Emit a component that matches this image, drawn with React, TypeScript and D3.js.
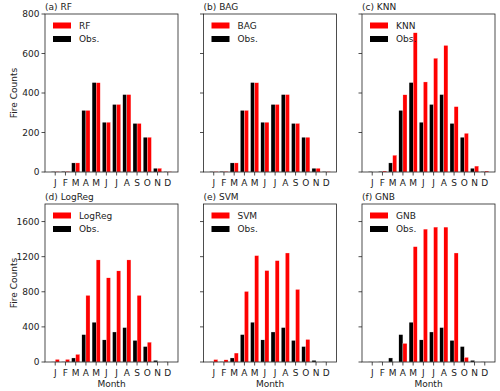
import React from 'react';
import {scaleLinear} from 'd3';

const months=["J","F","M","A","M","J","J","A","S","O","N","D"];
const obs=[2,3,46,312,453,252,342,392,246,176,19,2];
const rf=[2,3,46,312,452,252,342,392,246,176,19,2];
const bag=[2,3,46,312,452,252,342,392,246,176,19,2];
const knn=[0,5,85,391,705,456,576,641,331,196,30,5];
const logreg=[30,30,87,759,1163,959,1038,1163,759,226,0,0];
const svm=[28,25,102,804,1212,1042,1155,1242,827,257,0,0];
const gnb=[0,0,0,212,1314,1514,1537,1537,1242,53,0,0];

const panels=[
  {tag:"(a)",name:"RF",vals:rf},
  {tag:"(b)",name:"BAG",vals:bag},
  {tag:"(c)",name:"KNN",vals:knn},
  {tag:"(d)",name:"LogReg",vals:logreg},
  {tag:"(e)",name:"SVM",vals:svm},
  {tag:"(f)",name:"GNB",vals:gnb},
];
const topTicks=[0,200,400,600,800];
const botTicks=[0,400,800,1200,1600];

const W=500,H=391;
const colX=[45,203.5,362];
const rowY=[14,204];
const pw=133,ph=158;
const font="DejaVu Sans";
const fs=9;

const Panel=({p,i}:{p:any,i:number})=>{
  const col=i%3,row=Math.floor(i/3);
  const x0=colX[col],y0=rowY[row];
  const x=scaleLinear().domain([0,13]).range([0,pw]);
  const y=scaleLinear().domain(row===0?[0,800]:[0,1800]).range([ph,0]);
  const ticks=row===0?topTicks:botTicks;
  const bw=x(0.4)-x(0);
  return (
    <g transform={`translate(${x0},${y0})`}>
      {obs.map((v,k)=>(
        <rect key={"o"+k} x={x(k+1)-bw} y={y(v)} width={bw} height={ph-y(v)} fill="#000" stroke="#fff" strokeWidth={0.3}/>
      ))}
      {p.vals.map((v:number,k:number)=>(
        <rect key={"r"+k} x={x(k+1)} y={y(v)} width={bw} height={ph-y(v)} fill="#ff0000" stroke="#fff" strokeWidth={0.3}/>
      ))}
      <rect x={0} y={0} width={pw} height={ph} fill="none" stroke="#222" strokeWidth={0.8}/>
      {ticks.map(t=>(
        <g key={t} transform={`translate(0,${y(t)})`}>
          <line x1={-3.5} x2={0} stroke="#222" strokeWidth={0.8}/>
          {col===0 && <text x={-5.5} dy="0.35em" textAnchor="end" fontFamily={font} fontSize={fs} fill="#222">{t}</text>}
        </g>
      ))}
      {months.map((m,k)=>(
        <g key={k} transform={`translate(${x(k+1)},${ph})`}>
          <line y1={0} y2={3.5} stroke="#222" strokeWidth={0.8}/>
          <text y={14} textAnchor="middle" fontFamily={font} fontSize={fs} fill="#222">{m}</text>
        </g>
      ))}
      <text x={0} y={-4} fontFamily={font} fontSize={fs} fill="#222">{p.tag} {p.name}</text>
      <rect x={8} y={8.5} width={18} height={6} fill="#ff0000"/>
      <text x={34} y={14.5} fontFamily={font} fontSize={fs} fill="#222">{p.name}</text>
      <rect x={8} y={22} width={18} height={6} fill="#000"/>
      <text x={34} y={28} fontFamily={font} fontSize={fs} fill="#222">Obs.</text>
      {row===1 && <text x={pw/2} y={ph+25} textAnchor="middle" fontFamily={font} fontSize={fs} fill="#222">Month</text>}
      {col===0 && <text transform={`translate(-28.5,${ph/2}) rotate(-90)`} textAnchor="middle" fontFamily={font} fontSize={fs} fill="#222">Fire Counts</text>}
    </g>
  );
};

export default function App(){
  return (
    <svg width={W} height={H} style={{position:"absolute",left:0,top:0,background:"#fff"}}>
      {panels.map((p,i)=><Panel key={i} p={p} i={i}/>)}
    </svg>
  );
}
